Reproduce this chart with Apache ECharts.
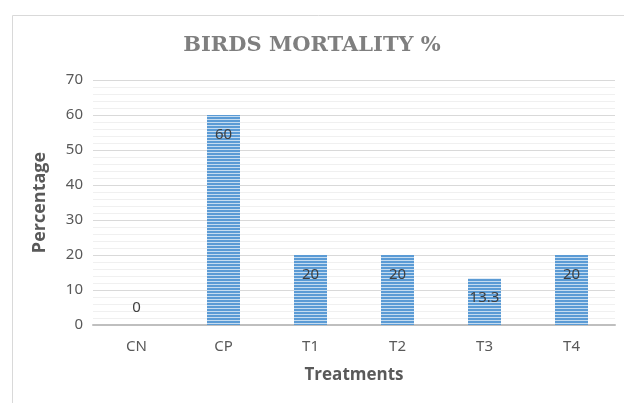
<!DOCTYPE html>
<html>
<head>
<meta charset="utf-8">
<script src="https://cdn.jsdelivr.net/npm/echarts@6/dist/echarts.min.js"></script>
<style>
  html, body { margin: 0; padding: 0; background: #fff; }
  #main { width: 624px; height: 403px; }
</style>
</head>
<body>
<div id="main"></div>
<script>
// data
var categories = ['CN', 'CP', 'T1', 'T2', 'T3', 'T4'];
var mortality = [0, 60, 20, 20, 13.3, 20];
var yTicks = [0, 10, 20, 30, 40, 50, 60, 70];

// striped fill like the excel bar texture
function stripePattern() {
  var c = document.createElement('canvas');
  c.width = 4;
  c.height = 3;
  var ctx = c.getContext('2d');
  ctx.fillStyle = '#5b9bd5';
  ctx.fillRect(0, 0, 4, 2);
  ctx.fillStyle = '#c5dcf0';
  ctx.fillRect(0, 2, 4, 1);
  return c;
}

var myChart = echarts.init(document.getElementById('main'));
var labelFont = "'Liberation Sans Narrow', 'Noto Sans', sans-serif";

var option = {
  animation: false,
  title: {
    text: 'BIRDS MORTALITY %',
    left: 'center',
    top: 30,
    textStyle: {
      fontFamily: "'DejaVu Serif', serif",
      fontSize: 21,
      fontWeight: 'bold',
      color: '#7f7f7f'
    }
  },
  graphic: [{
    type: 'rect',
    shape: { x: 12.5, y: 15.5, width: 700, height: 500 },
    style: { fill: 'none', stroke: '#d9d9d9', lineWidth: 1 },
    silent: true
  }],
  grid: {
    left: 93,
    right: 9,
    top: 80,
    bottom: 78
  },
  xAxis: {
    type: 'category',
    data: categories,
    name: 'Treatments',
    nameLocation: 'middle',
    nameGap: 42,
    nameTextStyle: {
      fontFamily: "'Open Sans', sans-serif",
      fontSize: 17,
      fontWeight: 'bold',
      color: '#595959'
    },
    axisLine: { lineStyle: { color: '#bfbfbf', width: 2 } },
    axisTick: { show: false },
    axisLabel: {
      margin: 14,
      fontFamily: labelFont,
      fontSize: 15,
      color: '#595959'
    }
  },
  yAxis: {
    type: 'value',
    min: yTicks[0],
    max: yTicks[yTicks.length - 1],
    interval: 10,
    name: 'Percentage',
    nameLocation: 'middle',
    nameGap: 44,
    nameTextStyle: {
      fontFamily: "'Open Sans', sans-serif",
      fontSize: 18,
      fontWeight: 'bold',
      color: '#595959'
    },
    axisLine: { show: false },
    axisTick: { show: false },
    axisLabel: {
      margin: 10,
      fontFamily: labelFont,
      fontSize: 15,
      color: '#595959'
    },
    splitLine: { lineStyle: { color: '#d9d9d9' } },
    minorTick: { show: false, splitNumber: 5 },
    minorSplitLine: { show: true, lineStyle: { color: '#f0f0f0' } }
  },
  series: [{
    type: 'bar',
    barWidth: 33,
    data: mortality.map(function (v) {
      return v === 0 ? { value: v, label: { position: 'top', distance: 10 } } : v;
    }),
    itemStyle: {
      color: { image: stripePattern(), repeat: 'repeat' }
    },
    label: {
      show: true,
      position: 'insideTop',
      distance: 12,
      fontFamily: labelFont,
      fontSize: 15,
      color: '#404040'
    }
  }]
};

myChart.setOption(option);
</script>
</body>
</html>
